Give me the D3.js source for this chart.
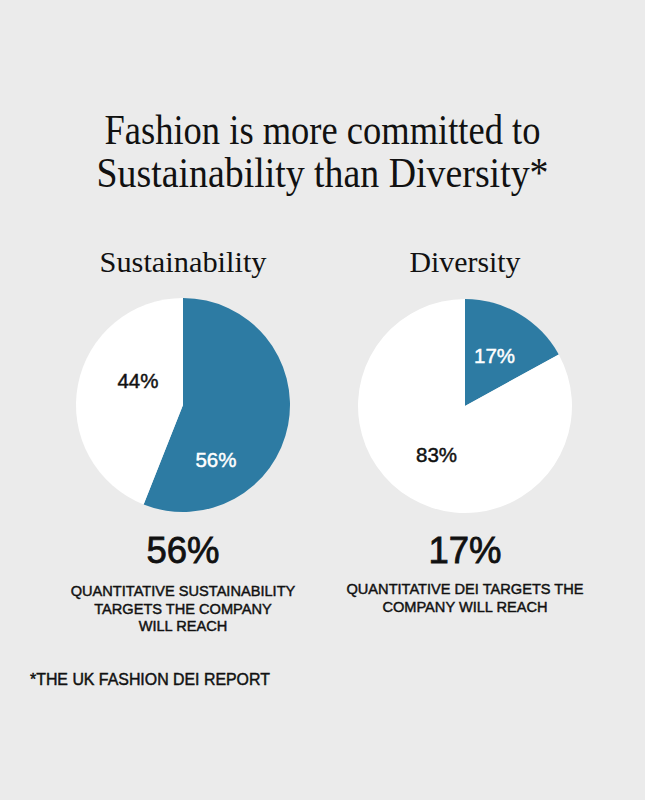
<!DOCTYPE html>
<html><head><meta charset="utf-8">
<script src="https://cdn.jsdelivr.net/npm/d3@7"></script>
<style>html,body{margin:0;padding:0;background:#ebebeb;}svg{display:block;}</style>
</head><body>
<script>
// ---- data ----
const titleLines = ["Fashion is more committed to", "Sustainability than Diversity*"];
const charts = ["Sustainability", "Diversity"];
const committed = [56, 17];           // % of targets company will reach (blue)
const remaining = [44, 83];           // remainder (white)
const captions = [
  ["QUANTITATIVE SUSTAINABILITY", "TARGETS THE COMPANY", "WILL REACH"],
  ["QUANTITATIVE DEI TARGETS THE", "COMPANY WILL REACH"]
];
const footnote = "*THE UK FASHION DEI REPORT";

// ---- layout ----
const W = 645, H = 800;
const blue = "#2d7ba3", white = "#ffffff", bg = "#ebebeb";
const centers = [{x:183, y:405}, {x:465, y:406}];
const R = 107;
// label angle overrides (degrees, clockwise from 12 o'clock) for [blue, white]
const labelAngles = [[149, 298], [null, null]];
const labelRadius = [[64, 51], [58, 56]];

const svg = d3.select("body").append("svg").attr("width", W).attr("height", H);
svg.append("rect").attr("width", W).attr("height", H).attr("fill", bg);

const serif = "'Liberation Serif','DejaVu Serif',serif";
const sans = "'Liberation Sans',Arial,Helvetica,sans-serif";
const medium = sel => sel.attr("font-family", sans).attr("stroke-width", 0.45).attr("paint-order", "stroke");

// Title
const titleY = [144, 187], titleW = [436, 452];
titleLines.forEach((t, i) => {
  svg.append("text").attr("x", W/2).attr("y", titleY[i])
    .attr("text-anchor", "middle").attr("font-family", serif).attr("font-size", 43)
    .attr("fill", "#111").attr("textLength", titleW[i]).attr("lengthAdjust", "spacingAndGlyphs")
    .text(t);
});

const pie = d3.pie().sort(null).value(d => d.v);
const arc = d3.arc().innerRadius(0).outerRadius(R);
const subW = [167, 111];

charts.forEach((name, i) => {
  const c = centers[i];
  svg.append("text").attr("x", c.x).attr("y", 272).attr("text-anchor", "middle")
    .attr("font-family", serif).attr("font-size", 29).attr("fill", "#111")
    .attr("textLength", subW[i]).attr("lengthAdjust", "spacingAndGlyphs").text(name);

  const data = [{v: committed[i], fill: blue, tc: "#fff"}, {v: remaining[i], fill: white, tc: "#111"}];
  const g = svg.append("g").attr("transform", `translate(${c.x},${c.y})`);
  const arcs = pie(data);
  g.selectAll("path").data(arcs).join("path").attr("d", arc).attr("fill", d => d.data.fill);
  g.selectAll("text").data(arcs).join("text")
    .attr("transform", (d, j) => {
      const ov = labelAngles[i][j];
      const a = ov != null ? ov * Math.PI / 180 : (d.startAngle + d.endAngle) / 2;
      const r = labelRadius[i][j];
      return `translate(${r*Math.sin(a)},${-r*Math.cos(a)})`;
    })
    .attr("text-anchor", "middle").attr("dy", "0.36em")
    .call(medium).attr("font-size", 20.5)
    .attr("fill", d => d.data.tc).attr("stroke", d => d.data.tc).text(d => d.data.v + "%");

  svg.append("text").attr("x", c.x).attr("y", 563).attr("text-anchor", "middle")
    .call(medium).attr("font-size", 36.5).attr("stroke-width", 0.8)
    .attr("fill", "#111").attr("stroke", "#111").text(committed[i] + "%");

  captions[i].forEach((line, k) => {
    svg.append("text").attr("x", c.x).attr("y", (i===0?596:594) + k*17.5).attr("text-anchor", "middle")
      .call(medium).attr("font-size", 14.6)
      .attr("fill", "#111").attr("stroke", "#111").text(line);
  });
});

svg.append("text").attr("x", 30).attr("y", 685).call(medium)
  .attr("font-size", 15.9).attr("fill", "#111").attr("stroke", "#111").text(footnote);
</script>
</body></html>
